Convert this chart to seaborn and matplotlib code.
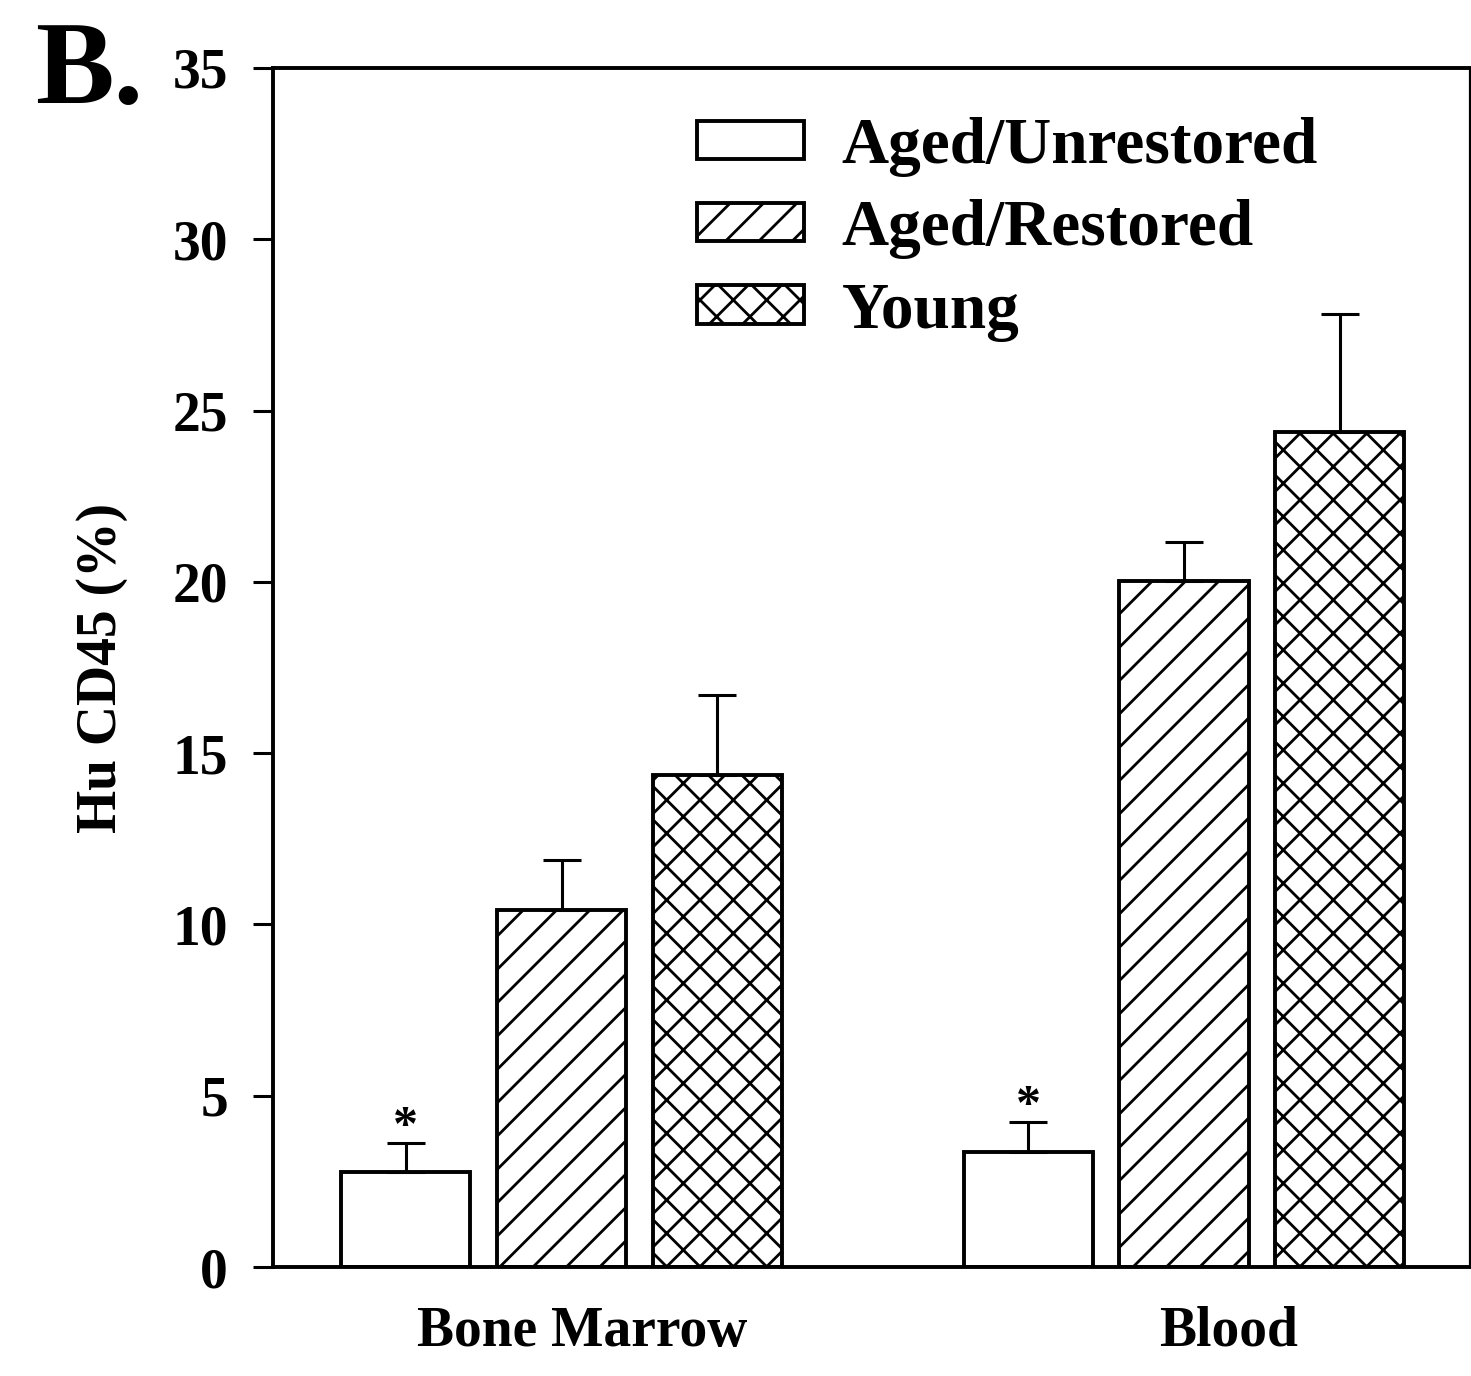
import numpy as np
import pandas as pd
import seaborn as sns
import matplotlib.pyplot as plt
from matplotlib.transforms import ScaledTranslation

# data
tissues = ['Bone Marrow', 'Blood']
groups = ['Aged/Unrestored', 'Aged/Restored', 'Young']
means = {
    'Aged/Unrestored': [2.77, 3.36],
    'Aged/Restored': [10.42, 20.02],
    'Young': [14.36, 24.36],
}
errors = {
    'Aged/Unrestored': [0.85, 0.87],
    'Aged/Restored': [1.46, 1.14],
    'Young': [2.34, 3.46],
}
hatches = ['', '//', 'xx']
signif = {'Aged/Unrestored': ['*', '*']}
y_ticks = [0, 5, 10, 15, 20, 25, 30, 35]

sns.set_style('ticks')
plt.rcParams['font.family'] = ['Liberation Serif', 'DejaVu Serif']
plt.rcParams['font.weight'] = 'bold'
plt.rcParams['hatch.color'] = 'black'
plt.rcParams['hatch.linewidth'] = 1.0
for k in ['text.color', 'axes.labelcolor', 'xtick.color', 'ytick.color', 'axes.edgecolor']:
    plt.rcParams[k] = 'black'

df = pd.DataFrame([(t, g, means[g][i]) for g in groups for i, t in enumerate(tissues)],
                  columns=['Tissue', 'Group', 'Value'])

fig = plt.figure(figsize=(7.355, 6.88), dpi=200)
ax = fig.add_axes([0.1856, 0.0792, 0.8137, 0.8714])

sns.barplot(data=df, x='Tissue', y='Value', hue='Group', order=tissues, hue_order=groups,
            palette=['white'] * 3, edgecolor='black', linewidth=1.4,
            width=0.75, gap=0.17, errorbar=None, legend=False, ax=ax)

for cont, g, h in zip(ax.containers, groups, hatches):
    xs = []
    for p in cont.patches:
        p.set_hatch(h)
        p.set_edgecolor('black')
        xs.append(p.get_x() + p.get_width() / 2)
    m = np.array(means[g])
    e = np.array(errors[g])
    ax.errorbar(xs, m, yerr=[np.zeros_like(e), e], fmt='none', ecolor='black',
                elinewidth=1.1, capsize=6.7, capthick=1.1, zorder=1)
    for x, top, s in zip(xs, m + e, signif.get(g, [])):
        ax.annotate(s, (x, top), xytext=(0, -3), textcoords='offset points',
                    ha='center', va='bottom', fontsize=18, fontweight='bold')

ax.set_ylim(0, 35)
ax.set_xlim(-0.4635, 1.4594)
ax.set_yticks(y_ticks)
ax.tick_params(axis='y', direction='out', length=7.2, width=1.1, pad=9, labelsize=20)
ax.tick_params(axis='x', length=0, pad=14, labelsize=20)
for lab in ax.get_yticklabels() + ax.get_xticklabels():
    lab.set_fontweight('bold')
for lab, dx in zip(ax.get_xticklabels(), [21, 44]):
    lab.set_transform(lab.get_transform() + ScaledTranslation(dx / 200, 0, fig.dpi_scale_trans))

ax.set_xlabel('')
ax.set_ylabel('Hu CD45 (%)', fontsize=20, fontweight='bold', labelpad=16)

for side in ['left', 'bottom', 'top']:
    ax.spines[side].set_linewidth(1.4)
ax.spines['right'].set_linewidth(0.8)
for s in ax.spines.values():
    s.set_visible(True)
    s.set_color('black')

leg = ax.legend(ax.containers, groups, loc='upper left', bbox_to_anchor=(0.354, 0.959),
                frameon=False, fontsize=23.5, handlelength=1.64, handleheight=0.53,
                handletextpad=0.58, labelspacing=0.34, borderpad=0, borderaxespad=0)
for t in leg.get_texts():
    t.set_fontweight('bold')

fig.text(0.024, 0.925, 'B.', fontsize=42.5, fontweight='bold', ha='left', va='baseline')

fig.savefig('out.png', dpi=200)
